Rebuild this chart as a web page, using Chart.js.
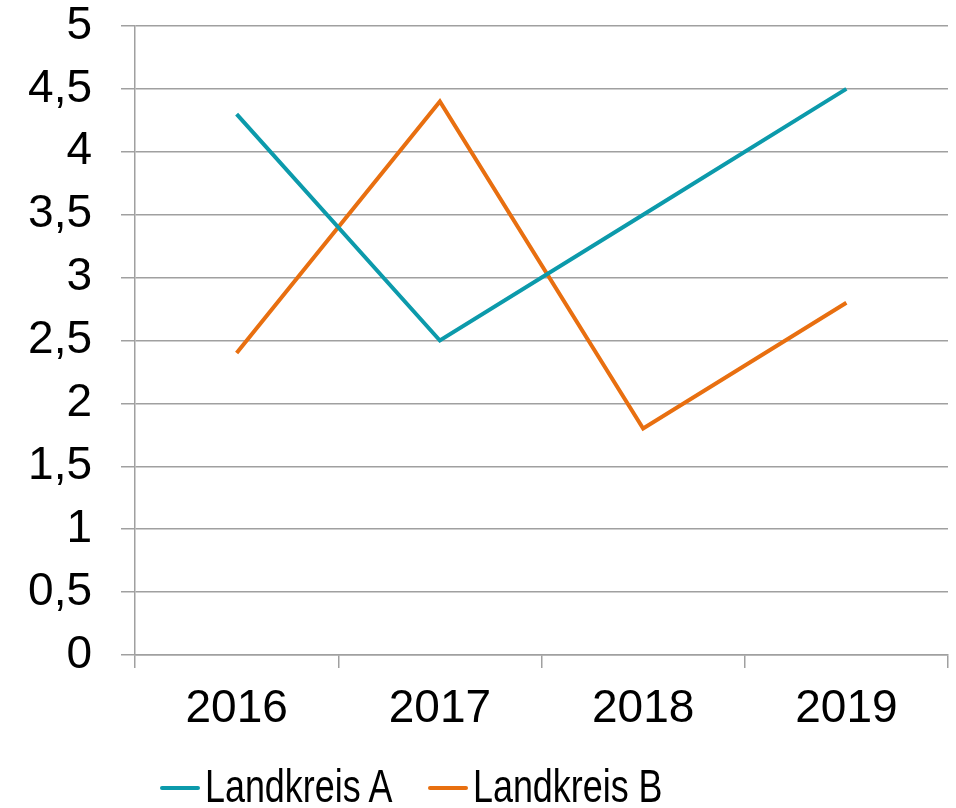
<!DOCTYPE html>
<html>
<head>
<meta charset="utf-8">
<script src="https://cdn.jsdelivr.net/npm/chart.js@4"></script>
<style>
  html, body { margin: 0; padding: 0; background: #fff; }
  #wrap { position: relative; width: 956px; height: 808px; overflow: hidden; }
  .leg { position: absolute; top: 763px; height: 46px; font: 46px "Liberation Sans", Arial, sans-serif; line-height: 46px; color: #000; white-space: nowrap; }
  .leg .sw { position: absolute; left: 0; top: 23px; width: 40px; height: 4px; border-radius: 2px; }
  .leg .tx { position: absolute; left: 45px; top: 0; transform: scaleX(0.78); transform-origin: 0 0; }
</style>
</head>
<body>
<div id="wrap">
  <canvas id="grafico" width="956" height="808"></canvas>
</div>
<script>
// datos del gráfico
const anios = ['2016', '2017', '2018', '2019'];
const landkreisA = [4.3, 2.5, 3.5, 4.5];
const landkreisB = [2.4, 4.4, 1.8, 2.8];
const nombres = ['Landkreis A', 'Landkreis B'];
const colores = ['#0c9aab', '#e86f10'];

const gris = '#a0a0a0';
const fuente = { family: '"Liberation Sans", Arial, sans-serif', size: 46 };

const chart = new Chart(document.getElementById('grafico'), {
  type: 'line',
  data: {
    labels: anios,
    datasets: [
      { label: nombres[0], data: landkreisA, borderColor: colores[0], backgroundColor: colores[0], borderWidth: 4, pointRadius: 0, tension: 0 },
      { label: nombres[1], data: landkreisB, borderColor: colores[1], backgroundColor: colores[1], borderWidth: 4, pointRadius: 0, tension: 0 },
    ],
  },
  options: {
    responsive: false,
    animation: false,
    layout: { padding: { top: 26, right: 8, bottom: 0, left: 0 } },
    plugins: { legend: { display: false }, tooltip: { enabled: false } },
    scales: {
      x: {
        offset: true,
        grid: { offset: true, drawOnChartArea: false, color: gris, lineWidth: 1.5, tickLength: 13 },
        border: { color: gris, width: 1.5 },
        ticks: { color: '#000', font: fuente, padding: 14, maxRotation: 0 },
        afterFit: (s) => { s.height = 153; },
      },
      y: {
        min: 0,
        max: 5,
        grid: { color: gris, lineWidth: 1.5, tickLength: 14 },
        border: { color: gris, width: 1.5 },
        ticks: {
          stepSize: 0.5,
          color: '#000',
          font: fuente,
          padding: 29,
          callback: (v) => String(v).replace('.', ','),
        },
        afterFit: (s) => { s.width = 135; s.paddingTop = 0; s.paddingBottom = 0; },
      },
    },
  },
});

// leyenda en HTML
const posLeyenda = [160, 428];
const wrap = document.getElementById('wrap');
chart.data.datasets.forEach((ds, i) => {
  const item = document.createElement('div');
  item.className = 'leg';
  item.style.left = posLeyenda[i] + 'px';
  const sw = document.createElement('span');
  sw.className = 'sw';
  sw.style.background = ds.borderColor;
  const tx = document.createElement('span');
  tx.className = 'tx';
  tx.textContent = ds.label;
  item.appendChild(sw);
  item.appendChild(tx);
  wrap.appendChild(item);
});
</script>
</body>
</html>
